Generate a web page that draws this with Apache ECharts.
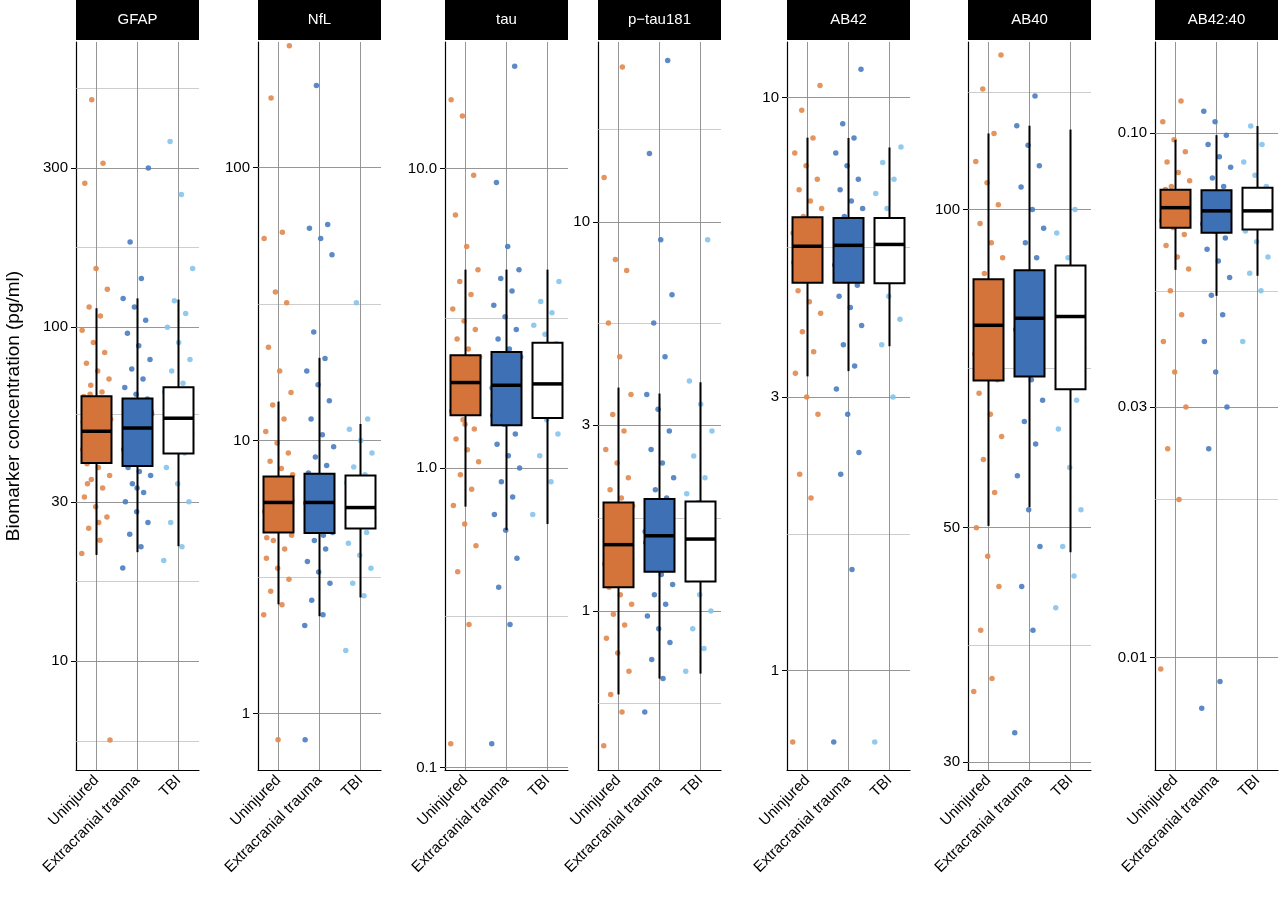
<!DOCTYPE html>
<html><head><meta charset="utf-8">
<script src="https://cdn.jsdelivr.net/npm/echarts@6/dist/echarts.min.js"></script>
<style>html,body{margin:0;padding:0;background:#fff}#c{width:1280px;height:919px}</style>
</head><body><div id="c"></div>
<script>
const categories = ["Uninjured", "Extracranial trauma", "TBI"];
const panelNames = ["GFAP","NfL","tau","p\u2212tau181","AB42","AB40","AB42:40"];
const tickLabels = [
  ["10","30","100","300"], ["1","10","100"], ["0.1","1.0","10.0"], ["1","3","10"],
  ["1","3","10"], ["30","50","100"], ["0.01","0.03","0.10"]
];
const yRanges = [[4.72,715],[0.62,289],[0.098,26.5],[0.39,29],[0.67,12.5],[29.5,144],[0.0061,0.149]];
// box stats: [lowerWhisker, Q1, median, Q3, upperWhisker]
const boxGFAP = [[20.8,39.2,48.8,62.1,114],[21.2,38.4,49.9,61.2,122],[22.1,41.9,53.4,66.1,121]];
const boxNfL  = [[2.51,4.6,5.93,7.38,13.9],[2.27,4.58,5.93,7.55,20.1],[2.66,4.76,5.68,7.44,11.5]];
const boxTau  = [[0.743,1.5,1.93,2.38,4.6],[0.62,1.39,1.89,2.44,4.6],[0.65,1.47,1.91,2.62,4.6]];
const boxPtau = [[0.61,1.15,1.48,1.9,3.75],[0.67,1.26,1.56,1.94,3.62],[0.69,1.19,1.53,1.91,3.87]];
const boxAB42 = [[3.26,4.75,5.5,6.18,8.51],[3.33,4.75,5.52,6.16,8.5],[3.68,4.74,5.54,6.16,8.18]];
const boxAB40 = [[50.2,68.9,77.7,85.9,118],[52.3,69.5,78.9,87.6,120],[47.4,67.6,79.2,88.5,119]];
const boxRatio= [[0.0548,0.0659,0.072,0.0779,0.097],[0.0489,0.0645,0.071,0.0777,0.099],[0.0534,0.0654,0.071,0.0786,0.103]];
// individual points
const ptsGFAP = [
 [21,23,25,27,29,31,33,35,36,38,39,40,42,43,44,46,47,48,49,50,51,53,54,56,58,60,62,64,67,70,74,78,84,90,98,108,115,130,150,270,310,480,5.8,26,34,41,45,52,57,63],
 [19,22,24,26,28,30,32,34,36,37,38,40,41,43,45,46,48,49,50,52,53,55,57,59,61,63,66,70,75,80,88,96,105,115,122,140,180,300,33,39,44,51,56],
 [20,22,26,30,34,38,42,45,48,51,53,56,60,64,68,74,80,90,100,110,120,150,250,360]];
const ptsNfL = [
 [2.3,2.5,2.8,3.1,3.4,3.7,4,4.3,4.5,4.7,4.9,5.1,5.3,5.5,5.7,5.9,6.1,6.3,6.6,6.9,7.2,7.5,7.9,8.4,9,9.8,10.8,12,13.5,15,18,22,32,35,55,58,180,280,0.8,4.4,5.0,5.6,6.0,6.8],
 [2.1,2.3,2.6,3,3.3,3.6,4,4.3,4.6,4.8,5,5.3,5.6,5.9,6.2,6.5,6.9,7.3,7.6,8.1,8.7,9.5,10.5,12,14,16,18,20,25,48,55,60,62,200,0.8,4.5,5.2,6.0,7.0],
 [1.7,2.7,3,3.4,3.8,4.2,4.6,4.9,5.2,5.5,5.8,6.1,6.5,7,7.5,8,9,10,11,12,32]];
const ptsTau = [
 [0.12,0.3,0.45,0.55,0.65,0.75,0.85,0.95,1.05,1.15,1.25,1.35,1.45,1.55,1.65,1.75,1.85,1.95,2.05,2.15,2.25,2.35,2.5,2.7,2.9,3.1,3.4,3.8,4.2,4.6,5.5,7,9.5,15,17,1.6,1.9,2.2,1.4,2.0],
 [0.12,0.3,0.4,0.5,0.62,0.7,0.8,0.9,1,1.1,1.2,1.3,1.4,1.5,1.6,1.7,1.8,1.9,2,2.1,2.2,2.35,2.5,2.7,2.9,3.2,3.5,3.9,4.3,4.6,5.5,9,22,1.55,1.85,2.15,1.45],
 [0.7,0.9,1.1,1.3,1.45,1.6,1.75,1.9,2.05,2.2,2.4,2.6,2.8,3,3.3,3.6,4.2]];
const ptsPtau = [
 [0.45,0.55,0.61,0.7,0.78,0.85,0.92,0.98,1.04,1.1,1.15,1.2,1.26,1.32,1.38,1.44,1.5,1.56,1.62,1.7,1.78,1.86,1.95,2.05,2.2,2.4,2.6,2.9,3.2,3.6,4.5,5.5,7.5,8,13,25,1.3,1.5,1.7],
 [0.55,0.67,0.75,0.83,0.9,0.97,1.04,1.1,1.17,1.24,1.3,1.37,1.44,1.5,1.56,1.62,1.7,1.78,1.86,1.95,2.05,2.2,2.4,2.6,2.9,3.3,3.6,4.5,5.5,6.5,9,15,26,1.4,1.6,1.8],
 [0.7,0.8,0.9,1,1.1,1.2,1.3,1.4,1.5,1.6,1.7,1.8,1.9,2,2.2,2.5,2.9,3.4,3.9,9]];
const ptsAB42 = [
 [0.75,2,2.2,2.8,3,3.3,3.6,3.9,4.2,4.4,4.6,4.8,5,5.15,5.3,5.45,5.6,5.75,5.9,6.05,6.2,6.4,6.6,6.9,7.2,7.6,8,8.5,9.5,10.5,5.0,5.5,6.0,4.9,5.8],
 [0.75,1.5,2.2,2.4,2.8,3.1,3.4,3.7,4,4.3,4.5,4.7,4.9,5.1,5.3,5.45,5.6,5.75,5.9,6.05,6.2,6.4,6.6,6.9,7.2,7.6,8,8.5,9,11.2,5.2,5.7,6.1],
 [0.75,3,3.7,4.1,4.5,4.8,5,5.3,5.5,5.7,5.9,6.1,6.4,6.8,7.2,7.7,8.2]];
const ptsAB40 = [
 [35,36,40,44,47,50,54,58,61,64,67,69,71,73,75,77,79,81,83,85,87,90,93,97,101,106,111,118,130,140,72,76,80,84],
 [32,40,44,48,52,56,60,63,66,69,71,73,75,77,79,81,83,85,87,90,93,96,100,105,110,115,120,128,74,78,82],
 [42,45,48,52,57,62,66,70,74,78,82,86,90,95,100]];
const ptsRatio = [
 [0.0095,0.02,0.025,0.03,0.035,0.04,0.045,0.05,0.055,0.058,0.061,0.064,0.066,0.068,0.07,0.071,0.072,0.073,0.075,0.077,0.079,0.081,0.084,0.088,0.092,0.097,0.105,0.115,0.069,0.074,0.076,0.078],
 [0.008,0.009,0.025,0.03,0.035,0.04,0.045,0.049,0.053,0.057,0.06,0.063,0.065,0.067,0.069,0.071,0.073,0.075,0.077,0.079,0.082,0.086,0.09,0.095,0.099,0.105,0.11,0.068,0.072,0.076],
 [0.04,0.05,0.054,0.058,0.062,0.065,0.068,0.07,0.072,0.074,0.076,0.079,0.083,0.088,0.095,0.103]];

const boxes = [boxGFAP,boxNfL,boxTau,boxPtau,boxAB42,boxAB40,boxRatio];
const points = [ptsGFAP,ptsNfL,ptsTau,ptsPtau,ptsAB42,ptsAB40,ptsRatio];
const lefts = [76,258,445,598,787,968,1155];
const PW = 123, TOP = 42, H = 728;
const ptColors = ['#E0884E','#4A7DC0','#86C3EC'];
const boxColors = ['#D4743A','#3E70B5','#FFFFFF'];
const FONT = 'Liberation Sans, Arial';

const grid=[], xAxis=[], yAxis=[], series=[], graphic=[];
panelNames.forEach((name,p)=>{
  grid.push({left:lefts[p], top:TOP, width:PW, height:H});
  xAxis.push({gridIndex:p, type:'category', data:categories,
    axisLine:{onZero:false, lineStyle:{color:'#000',width:1.2}}, axisTick:{alignWithLabel:true,length:5,lineStyle:{color:'#000'}},
    axisLabel:{rotate:45, color:'#000', fontSize:15, fontFamily:FONT, margin:8, interval:0},
    splitLine:{show:false}});
  xAxis.push({gridIndex:p, type:'value', min:-0.5, max:2.5, show:false});
  const ticks = tickLabels[p].map(Number);
  const [ymin,ymax] = yRanges[p];
  yAxis.push({gridIndex:p, type:'log', min:ymin, max:ymax, logBase:10,
    axisLine:{show:true, onZero:false, lineStyle:{color:'#000',width:1.2}},
    axisTick:{show:true, customValues:ticks, length:5, lineStyle:{color:'#000'}},
    axisLabel:{customValues:ticks, color:'#000', fontSize:15, fontFamily:FONT,
      formatter:(v)=>{const i=ticks.findIndex(t=>Math.abs(t-v)/t<1e-6);return i>=0?tickLabels[p][i]:'';}},
    splitLine:{show:false}, minorSplitLine:{show:false}});
  const step = Math.log10(ticks[1]/ticks[0]);
  const gl = [];
  ticks.forEach(t=>gl.push({yAxis:t, lineStyle:{color:'#8a8a8a',width:0.9,type:'solid'}}));
  const minor = [];
  for (let k=-3;k<ticks.length+3;k++){
    let a, b;
    if (k>=0 && k<ticks.length-1){a=ticks[k];b=ticks[k+1];}
    else if (k<0){a=ticks[0]*Math.pow(10,step*(k));b=ticks[0]*Math.pow(10,step*(k+1));}
    else {a=ticks[ticks.length-1]*Math.pow(10,step*(k-ticks.length+1));b=a*Math.pow(10,step);}
    const m=Math.sqrt(a*b); if(m>ymin&&m<ymax) minor.push(m);
  }
  minor.forEach(m=>gl.push({yAxis:m, lineStyle:{color:'#b8b8b8',width:0.7,type:'solid'}}));
  [0,1,2].forEach(x=>gl.push({xAxis:x, lineStyle:{color:'#8a8a8a',width:0.9,type:'solid'}}));
  points[p].forEach((arr,g)=>{
    series.push({type:'scatter', xAxisIndex:2*p+1, yAxisIndex:p, z:2,
      symbolSize:5.5, itemStyle:{color:ptColors[g], opacity:0.9},
      data: arr.map((v,i)=>[g + (((i*0.6180339)%1)-0.5)*0.72, v]),
      markLine: g===0 ? {silent:true, symbol:'none', label:{show:false}, z:1, data:gl} : undefined,
      silent:true});
  });
  // box + whisker + median via custom series (no whisker caps)
  series.push({type:'custom', xAxisIndex:2*p, yAxisIndex:p, z:4, silent:true,
    data: boxes[p].map((b,g)=>[g].concat(b)),
    renderItem:(params,api)=>{
      const g=api.value(0);
      const lo=api.coord([g,api.value(1)]), q1=api.coord([g,api.value(2)]), md=api.coord([g,api.value(3)]),
            q3=api.coord([g,api.value(4)]), hi=api.coord([g,api.value(5)]);
      const x=lo[0], hw=15;
      return {type:'group', children:[
        {type:'line', shape:{x1:x,y1:hi[1],x2:x,y2:q3[1]}, style:{stroke:'#000',lineWidth:2}},
        {type:'line', shape:{x1:x,y1:q1[1],x2:x,y2:lo[1]}, style:{stroke:'#000',lineWidth:2}},
        {type:'rect', shape:{x:x-hw,y:q3[1],width:2*hw,height:q1[1]-q3[1]}, style:{fill:boxColors[g],stroke:'#000',lineWidth:2}},
        {type:'line', shape:{x1:x-hw,y1:md[1],x2:x+hw,y2:md[1]}, style:{stroke:'#000',lineWidth:3.5}}
      ]};
    }});
  graphic.push({type:'rect', shape:{x:lefts[p], y:0, width:PW, height:40}, style:{fill:'#000'}});
  graphic.push({type:'text', x:lefts[p]+PW/2, y:20, style:{text:name, fill:'#fff', fontSize:15,
    fontFamily:FONT, align:'center', verticalAlign:'middle'}});
});
graphic.push({type:'text', x:14, y:406, rotation:Math.PI/2, style:{text:'Biomarker concentration (pg/ml)',
  fill:'#000', fontSize:19, fontFamily:FONT, align:'center', verticalAlign:'middle'}});

const chart = echarts.init(document.getElementById('c'));
chart.setOption({animation:false, backgroundColor:'#fff', grid, xAxis, yAxis, series, graphic});
</script></body></html>
